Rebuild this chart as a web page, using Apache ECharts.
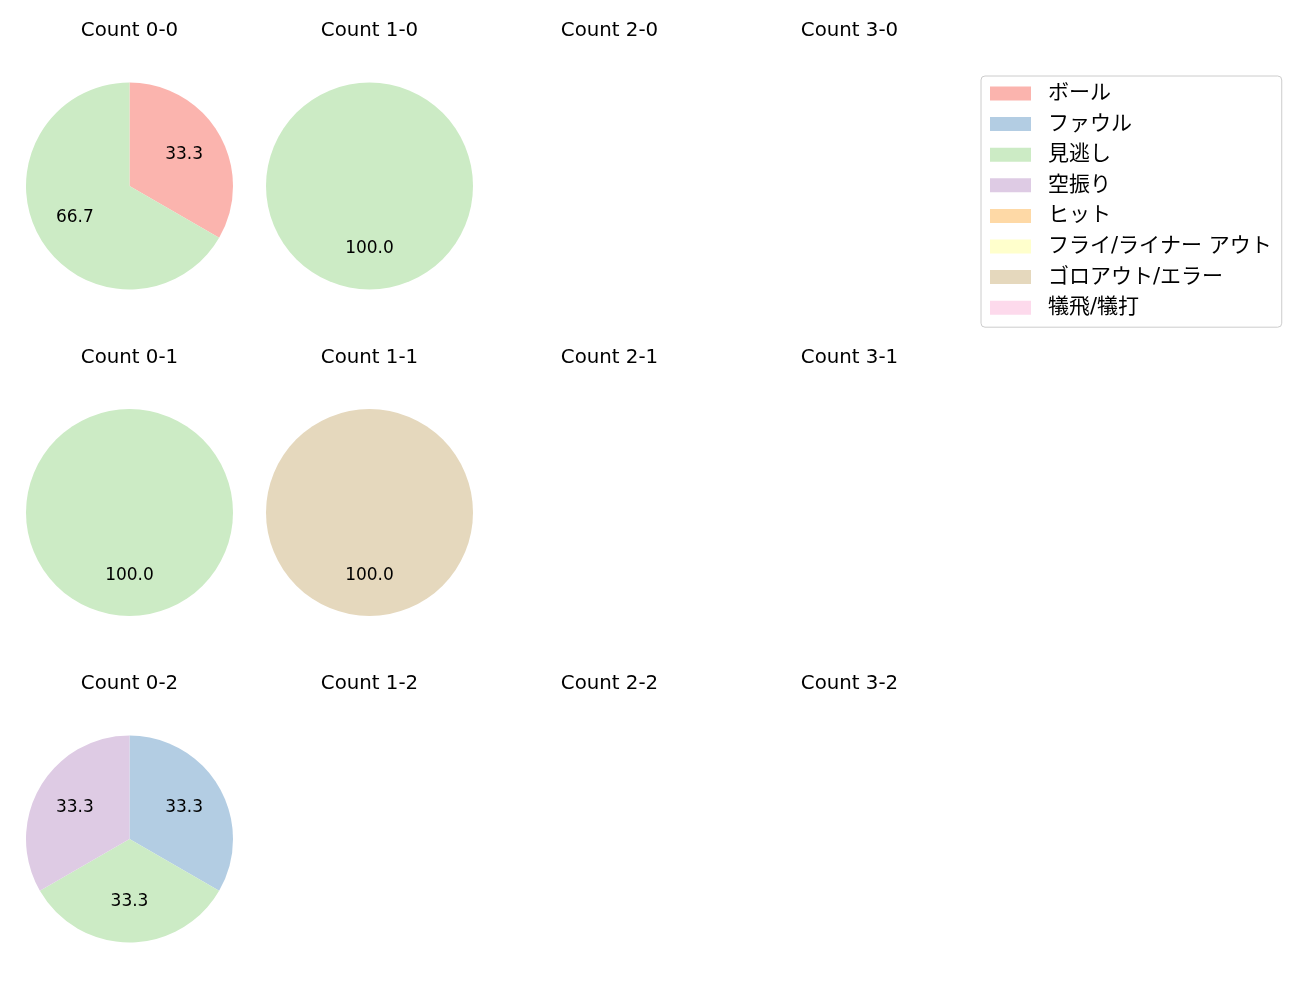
<!DOCTYPE html>
<html><head><meta charset="utf-8">
<script src="https://cdn.jsdelivr.net/npm/echarts@6/dist/echarts.min.js"></script>
<style>html,body{margin:0;padding:0;background:#fff}#c{width:1300px;height:1000px}</style>
</head><body><div id="c"></div>
<script>
const categories = ['ボール','ファウル','見逃し','空振り','ヒット','フライ/ライナー アウト','ゴロアウト/エラー','犠飛/犠打'];
const colors = ['#fbb4ae','#b3cde3','#ccebc5','#decbe4','#fed9a6','#ffffcc','#e5d8bd','#fddaec'];
const panelTitles = ['Count 0-0','Count 1-0','Count 2-0','Count 3-0','Count 0-1','Count 1-1','Count 2-1','Count 3-1','Count 0-2','Count 1-2','Count 2-2','Count 3-2'];
// counts per category for each panel (in category order)
const count00 = [1,0,2,0,0,0,0,0];
const count10 = [0,0,1,0,0,0,0,0];
const count01 = [0,0,1,0,0,0,0,0];
const count11 = [0,0,0,0,0,0,1,0];
const count02 = [0,1,1,1,0,0,0,0];
const panelData = {'Count 0-0':count00,'Count 1-0':count10,'Count 0-1':count01,'Count 1-1':count11,'Count 0-2':count02};

const colX = [129.5, 369.5, 609.5, 849.5];
const rowY = [186, 512.5, 839];
const titleY = [30.5, 357.5, 683.5];
const R = 103.5;
const font = '"DejaVu Sans", "Noto Sans CJK JP", sans-serif';

const graphics = panelTitles.map((t,i)=>({
  type:'text', x: colX[i%4], y: titleY[Math.floor(i/4)], silent:true,
  style:{text: t, textAlign:'center', textVerticalAlign:'middle', fontFamily: font, fontSize: 19.8, fill:'#000'}
}));

const series = [];
panelTitles.forEach((t,i)=>{
  const vals = panelData[t];
  if (!vals) return;
  const total = vals.reduce((a,b)=>a+b,0);
  const data = [];
  vals.forEach((v,k)=>{ if(v>0) data.push({name: categories[k], value: v, itemStyle:{color: colors[k]}}); });
  const center = [colX[i%4], rowY[Math.floor(i/4)]];
  series.push({
    type:'pie', center, radius:[0,R], startAngle:90, clockwise:true, silent:true,
    label:{show:false}, labelLine:{show:false}, data, animation:false,
    itemStyle:{borderWidth:0}
  });
  series.push({
    type:'pie', center, radius:[0.16*R,R], startAngle:90, clockwise:true, silent:true,
    animation:false, legendHoverLink:false,
    itemStyle:{color:'rgba(0,0,0,0)', borderWidth:0},
    label:{show:true, position:'inside', fontFamily: font, fontSize: 17, color:'#000',
      formatter: p => (p.value/total*100).toFixed(1)},
    labelLine:{show:false},
    data: data.map(d=>({name:d.name, value:d.value, itemStyle:{color:'rgba(0,0,0,0)'}}))
  });
});
// hidden series so every category appears in the legend
series.push({
  type:'pie', center:[-500,-500], radius:[0,1], silent:true, animation:false,
  label:{show:false}, labelLine:{show:false},
  data: categories.map((c,k)=>({name:c, value:1, itemStyle:{color:colors[k]}}))
});

const chart = echarts.init(document.getElementById('c'), null, {renderer:'canvas'});
chart.setOption({
  animation:false,
  color: colors,
  graphic: graphics,
  legend: {
    orient:'vertical', left: 981, top: 76,
    data: categories.map((c,k)=>({name:c, itemStyle:{color:colors[k]}, icon:'rect'})),
    itemWidth: 41, itemHeight: 14, itemGap: 9.6,
    padding:[7,10,9,9],
    borderColor:'#cccccc', borderWidth:1, borderRadius:4,
    selectedMode:false,
    textStyle:{fontFamily: font, fontSize: 21, color:'#000', padding:[0,0,0,12]}
  },
  series
});
</script></body></html>
